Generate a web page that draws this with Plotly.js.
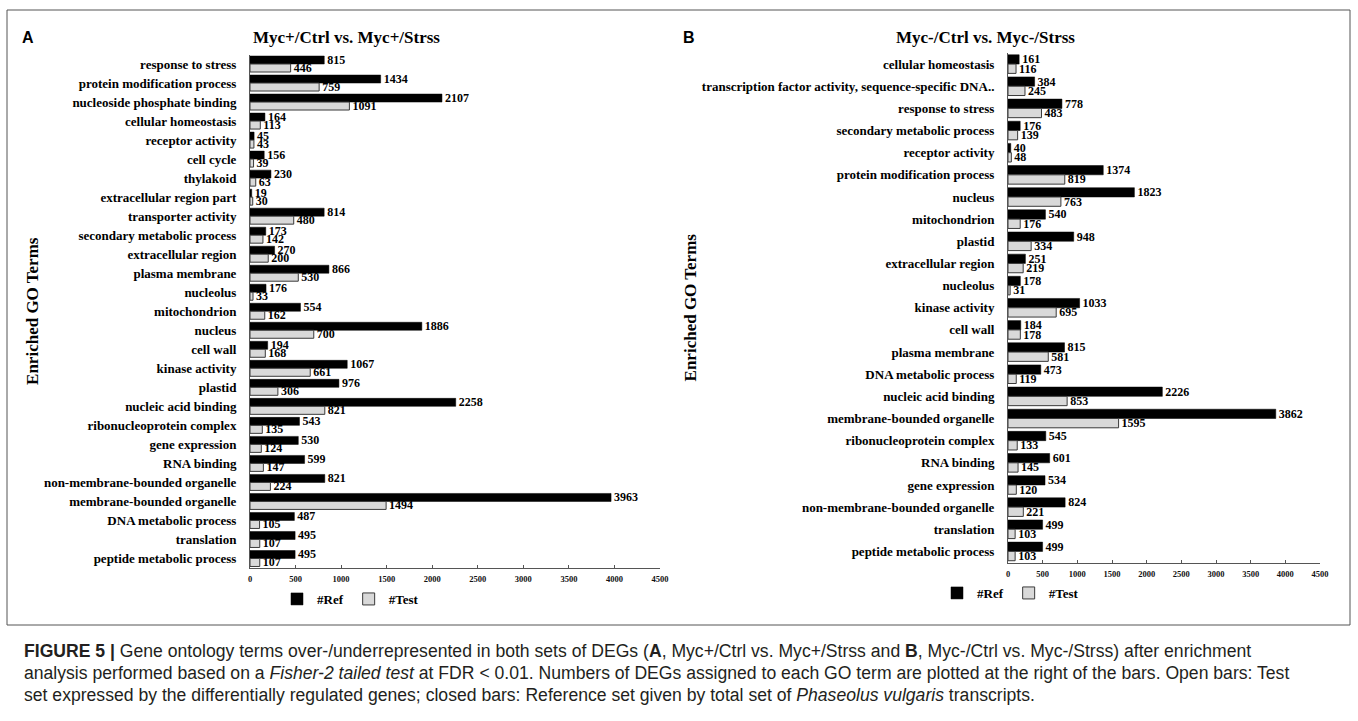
<!DOCTYPE html>
<html>
<head>
<meta charset="utf-8">
<script src="https://cdn.plot.ly/plotly-3.0.1.min.js"></script>
<style>
html,body{margin:0;padding:0;background:#fff;}
#chart{width:1358px;height:721px;}
</style>
</head>
<body>
<div id="chart"></div>
<script>
// ---- Data ----
const leftTitle = "Myc+/Ctrl vs. Myc+/Strss";
const rightTitle = "Myc-/Ctrl vs. Myc-/Strss";

const leftCategories = [
  "response to stress", "protein modification process", "nucleoside phosphate binding",
  "cellular homeostasis", "receptor activity", "cell cycle", "thylakoid",
  "extracellular region part", "transporter activity", "secondary metabolic process",
  "extracellular region", "plasma membrane", "nucleolus", "mitochondrion", "nucleus",
  "cell wall", "kinase activity", "plastid", "nucleic acid binding",
  "ribonucleoprotein complex", "gene expression", "RNA binding",
  "non-membrane-bounded organelle", "membrane-bounded organelle",
  "DNA metabolic process", "translation", "peptide metabolic process"
];
const leftRef = [815, 1434, 2107, 164, 45, 156, 230, 19, 814, 173, 270, 866, 176, 554, 1886,
  194, 1067, 976, 2258, 543, 530, 599, 821, 3963, 487, 495, 495];
const leftTest = [446, 759, 1091, 113, 43, 39, 63, 30, 480, 142, 200, 530, 33, 162, 700,
  168, 661, 306, 821, 135, 124, 147, 224, 1494, 105, 107, 107];

const rightCategories = [
  "cellular homeostasis", "transcription factor activity, sequence-specific DNA..",
  "response to stress", "secondary metabolic process", "receptor activity",
  "protein modification process", "nucleus", "mitochondrion", "plastid",
  "extracellular region", "nucleolus", "kinase activity", "cell wall", "plasma membrane",
  "DNA metabolic process", "nucleic acid binding", "membrane-bounded organelle",
  "ribonucleoprotein complex", "RNA binding", "gene expression",
  "non-membrane-bounded organelle", "translation", "peptide metabolic process"
];
const rightRef = [161, 384, 778, 176, 40, 1374, 1823, 540, 948, 251, 178, 1033, 184, 815,
  473, 2226, 3862, 545, 601, 534, 824, 499, 499];
const rightTest = [116, 245, 483, 139, 48, 819, 763, 176, 334, 219, 31, 695, 178, 581,
  119, 853, 1595, 133, 145, 120, 221, 103, 103];

const xTickVals = [0, 500, 1000, 1500, 2000, 2500, 3000, 3500, 4000, 4500];
const seriesNames = ["#Ref", "#Test"];
const yAxisTitle = "Enriched GO Terms";
const panelLetters = ["A", "B"];
const captionLines = [
  "<b>FIGURE 5 |</b> Gene ontology terms over-/underrepresented in both sets of DEGs (<b>A</b>, Myc+/Ctrl vs. Myc+/Strss and <b>B</b>, Myc-/Ctrl vs. Myc-/Strss) after enrichment",
  "analysis performed based on a <i>Fisher-2 tailed test</i> at FDR &lt; 0.01. Numbers of DEGs assigned to each GO term are plotted at the right of the bars. Open bars: Test",
  "set expressed by the differentially regulated genes; closed bars: Reference set given by total set of <i>Phaseolus vulgaris</i> transcripts."
];

// ---- Styling ----
const W = 1358, H = 721;
const SERIF = "Liberation Serif, Times New Roman, serif";
const SANS = "Liberation Sans, Arial, Helvetica, sans-serif";
const px = v => v / W;
const py = v => 1 - v / H;

const refMarker = {color: "#000000", line: {color: "#000000", width: 0.5}};
const testMarker = {color: "#d9d9d9", line: {color: "#3a3a3a", width: 1}};
const valFont = {family: SERIF, size: 12, color: "#000", weight: "bold"};

function barTrace(cats, vals, name, marker, xa, ya, lg) {
  return {
    type: "bar", orientation: "h", y: cats, x: vals, name: name,
    xaxis: xa, yaxis: ya, legend: lg, marker: marker,
    text: vals.map(String), textposition: "outside", textfont: valFont,
    constraintext: "none", cliponaxis: false, hoverinfo: "skip"
  };
}

const data = [
  barTrace(leftCategories, leftRef, seriesNames[0], refMarker, "x", "y", "legend"),
  barTrace(leftCategories, leftTest, seriesNames[1], testMarker, "x", "y", "legend"),
  barTrace(rightCategories, rightRef, seriesNames[0], refMarker, "x2", "y2", "legend2"),
  barTrace(rightCategories, rightTest, seriesNames[1], testMarker, "x2", "y2", "legend2")
];

function xAxis(domain, anchor) {
  return {
    domain: domain, anchor: anchor, range: [0, 4500], tickvals: xTickVals,
    ticks: "inside", ticklen: 3, tickcolor: "#555", showline: true, linecolor: "#555",
    linewidth: 1, showgrid: false, zeroline: false, ticklabelstandoff: 3,
    tickfont: {family: SERIF, size: 8.5, color: "#111", weight: "bold"}, fixedrange: true
  };
}
function yAxis(domain, anchor) {
  return {
    domain: domain, anchor: anchor, type: "category", autorange: "reversed",
    showline: true, linecolor: "#555", linewidth: 1, ticks: "", showgrid: false,
    zeroline: false, ticklabelstandoff: 10,
    tickfont: {family: SERIF, size: 13, color: "#000", weight: "bold"},
    title: {text: yAxisTitle, standoff: 0, font: {family: SERIF, size: 17, color: "#000", weight: "bold"}},
    fixedrange: true
  };
}

const legendBase = {
  orientation: "h", yanchor: "middle", xanchor: "left", itemwidth: 30,
  bgcolor: "rgba(0,0,0,0)", traceorder: "normal",
  font: {family: SERIF, size: 13, color: "#000", weight: "bold"}
};

const layout = {
  width: W, height: H, margin: {l: 0, r: 0, t: 0, b: 0},
  paper_bgcolor: "#fff", plot_bgcolor: "rgba(0,0,0,0)",
  barmode: "group", bargap: 0.16, bargroupgap: 0,
  showlegend: true,
  xaxis: xAxis([px(250), px(660)], "y"),
  yaxis: yAxis([py(568), py(54.5)], "x"),
  xaxis2: xAxis([px(1008), px(1320)], "y2"),
  yaxis2: yAxis([py(562.5), py(53)], "x2"),
  legend: Object.assign({}, legendBase, {x: px(277), y: py(599)}),
  legend2: Object.assign({}, legendBase, {x: px(937), y: py(593)}),
  shapes: [
    {type: "rect", xref: "paper", yref: "paper", x0: px(7), x1: px(1350), y0: py(10), y1: py(625),
     line: {color: "#555", width: 1}, fillcolor: "rgba(0,0,0,0)"}
  ],
  annotations: [
    {text: "<b>" + leftTitle + "</b>", xref: "paper", yref: "paper", x: px(346), y: py(38),
     xanchor: "center", yanchor: "middle", showarrow: false,
     font: {family: SERIF, size: 17, color: "#000"}},
    {text: "<b>" + rightTitle + "</b>", xref: "paper", yref: "paper", x: px(985), y: py(38),
     xanchor: "center", yanchor: "middle", showarrow: false,
     font: {family: SERIF, size: 17, color: "#000"}},
    {text: "<b>" + panelLetters[0] + "</b>", xref: "paper", yref: "paper", x: px(28), y: py(38),
     xanchor: "center", yanchor: "middle", showarrow: false,
     font: {family: SANS, size: 16, color: "#000"}},
    {text: "<b>" + panelLetters[1] + "</b>", xref: "paper", yref: "paper", x: px(689), y: py(38),
     xanchor: "center", yanchor: "middle", showarrow: false,
     font: {family: SANS, size: 16, color: "#000"}}
  ].concat(captionLines.map((t, i) => ({
    text: t, xref: "paper", yref: "paper", x: px(22), y: py(651 + 22 * i),
    xanchor: "left", yanchor: "middle", align: "left", showarrow: false,
    font: {family: SANS, size: 17.6, color: "#231f20"}
  })))
};

Plotly.newPlot("chart", data, layout, {displayModeBar: false, staticPlot: true});
</script>
</body>
</html>
